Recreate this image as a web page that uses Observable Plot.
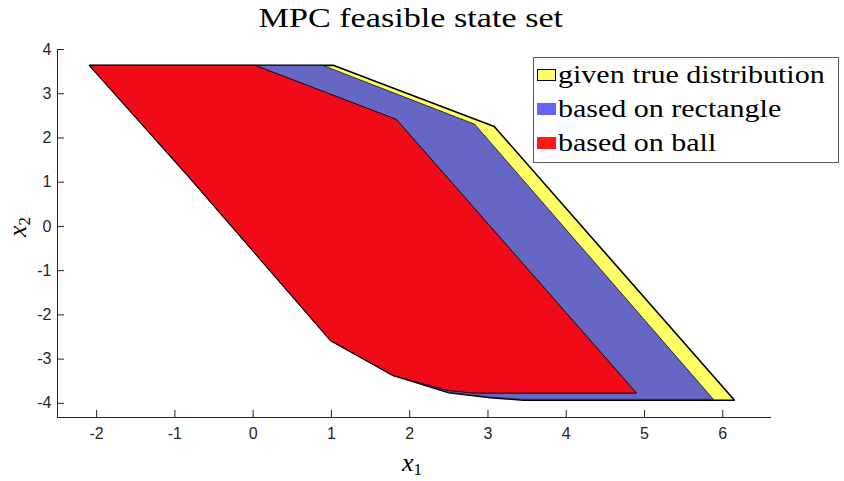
<!DOCTYPE html>
<html><head><meta charset="utf-8">
<script src="https://cdn.jsdelivr.net/npm/d3@7"></script>
<script src="https://cdn.jsdelivr.net/npm/@observablehq/plot@0.6"></script>
<style>
body{margin:0;background:#fff;}
#wrap{position:relative;width:844px;height:481px;overflow:hidden;}
#title{position:absolute;left:0;width:822px;top:2px;text-align:center;font-family:"Liberation Serif","DejaVu Serif",serif;font-size:28px;color:#000;}
#title span{display:inline-block;transform:scaleX(1.22);}
#legend{position:absolute;left:533px;top:57px;width:306px;height:106px;border:1px solid #5a5a5a;background:#fff;box-sizing:border-box;font-family:"Liberation Serif",serif;font-size:25px;color:#000;}
.row{position:absolute;left:3px;height:30px;display:flex;align-items:center;white-space:nowrap;}
.row .t{display:inline-block;transform:scaleX(1.2);transform-origin:0 50%;}
.sw{display:inline-block;width:19px;height:12px;margin-right:2px;box-sizing:border-box;}
.xl{position:absolute;font-family:"Liberation Serif",serif;font-size:26px;font-style:italic;line-height:30px;white-space:nowrap;}
.xl sub{font-style:normal;font-size:17px;vertical-align:-4px;}
</style></head><body><div id="wrap"><div id="title"><span>MPC feasible state set</span></div></div>
<script>
// given true distribution (outer polygon)
const trueX = [-2.09, 1.03, 3.08, 6.15, 3.45, 3.03, 2.50, 1.79, 0.99, -0.86, -2.09];
const trueY = [3.64, 3.64, 2.26, -3.93, -3.93, -3.87, -3.76, -3.37, -2.58, 1.20, 3.64];
// based on rectangle
const rectX = [-2.09, 0.89, 2.83, 5.88, 3.45, 3.03, 2.50, 1.79, 0.99, -0.86, -2.09];
const rectY = [3.64, 3.64, 2.31, -3.91, -3.91, -3.86, -3.75, -3.37, -2.58, 1.20, 3.64];
// based on ball
const ballX = [-2.09, 0.03, 1.83, 4.90, 2.82, 2.48, 1.79, 0.99, -0.86, -2.09];
const ballY = [3.64, 3.64, 2.42, -3.77, -3.77, -3.71, -3.37, -2.58, 1.20, 3.64];

const xTicks = [-2, -1, 0, 1, 2, 3, 4, 5, 6];
const yTicks = [-4, -3, -2, -1, 0, 1, 2, 3, 4];
const seriesNames = ["given true distribution", "based on rectangle", "based on ball"];
const fillColors = ["#FFFF66", "#6667C5", "#EF0B17"];
const legendColors = ["#FFFF66", "#6464FF", "#FF1A1A"];

const toRows = (xs, ys) => xs.map((x, i) => ({x, y: ys[i]}));
const polys = [toRows(trueX, trueY), toRows(rectX, rectY), toRows(ballX, ballY)];

const chart = Plot.plot({
  width: 844, height: 481,
  marginLeft: 57, marginRight: 74, marginTop: 49, marginBottom: 64,
  x: {domain: [-2.5, 6.61]},
  y: {domain: [-4.32, 4.0]},
  style: {fontFamily: "'Liberation Sans', Arial, sans-serif", fontSize: "16px", color: "#262626", background: "#fff", overflow: "visible"},
  marks: [
    Plot.line(polys[0], {x: "x", y: "y", fill: fillColors[0], stroke: "#000", strokeWidth: 1.6, strokeLinejoin: "miter"}),
    Plot.line(polys[1], {x: "x", y: "y", fill: fillColors[1], stroke: "#1a1a40", strokeWidth: 0.9, strokeLinejoin: "miter"}),
    Plot.line(polys[2], {x: "x", y: "y", fill: fillColors[2], stroke: "#000", strokeWidth: 0.9, strokeLinejoin: "miter"}),
    Plot.frame({anchor: "bottom", stroke: "#262626", strokeWidth: 1}),
    Plot.frame({anchor: "left", stroke: "#262626", strokeWidth: 1}),
    Plot.axisX({ticks: xTicks, tickFormat: d => String(d), tickSize: -7, tickPadding: 17, label: null, stroke: "#262626", fill: "#262626"}),
    Plot.axisY({ticks: yTicks, tickFormat: d => String(d), tickSize: -7, tickPadding: 13, label: null, stroke: "#262626", fill: "#262626"})
  ]
});
const wrap = document.getElementById("wrap");
wrap.appendChild(chart);

// axis labels
const xl = document.createElement("div");
xl.className = "xl";
xl.innerHTML = "x<sub>1</sub>";
xl.style.left = "402px"; xl.style.top = "448px";
wrap.appendChild(xl);
const yl = document.createElement("div");
yl.className = "xl";
yl.innerHTML = "x<sub>2</sub>";
yl.style.width = "30px"; yl.style.height = "30px"; yl.style.textAlign = "center";
yl.style.left = "3px"; yl.style.top = "212px";
yl.style.transform = "rotate(-90deg)";
wrap.appendChild(yl);

// legend
const lg = document.createElement("div");
lg.id = "legend";
seriesNames.forEach((name, i) => {
  const r = document.createElement("div");
  r.className = "row";
  r.style.top = (2 + i * 34) + "px";
  const sw = document.createElement("span");
  sw.className = "sw";
  sw.style.background = legendColors[i];
  sw.style.border = i === 0 ? "1.5px solid #000" : "none";
  r.appendChild(sw);
  const t = document.createElement("span");
  t.className = "t";
  t.textContent = name;
  r.appendChild(t);
  lg.appendChild(r);
});
wrap.appendChild(lg);
</script></body></html>
